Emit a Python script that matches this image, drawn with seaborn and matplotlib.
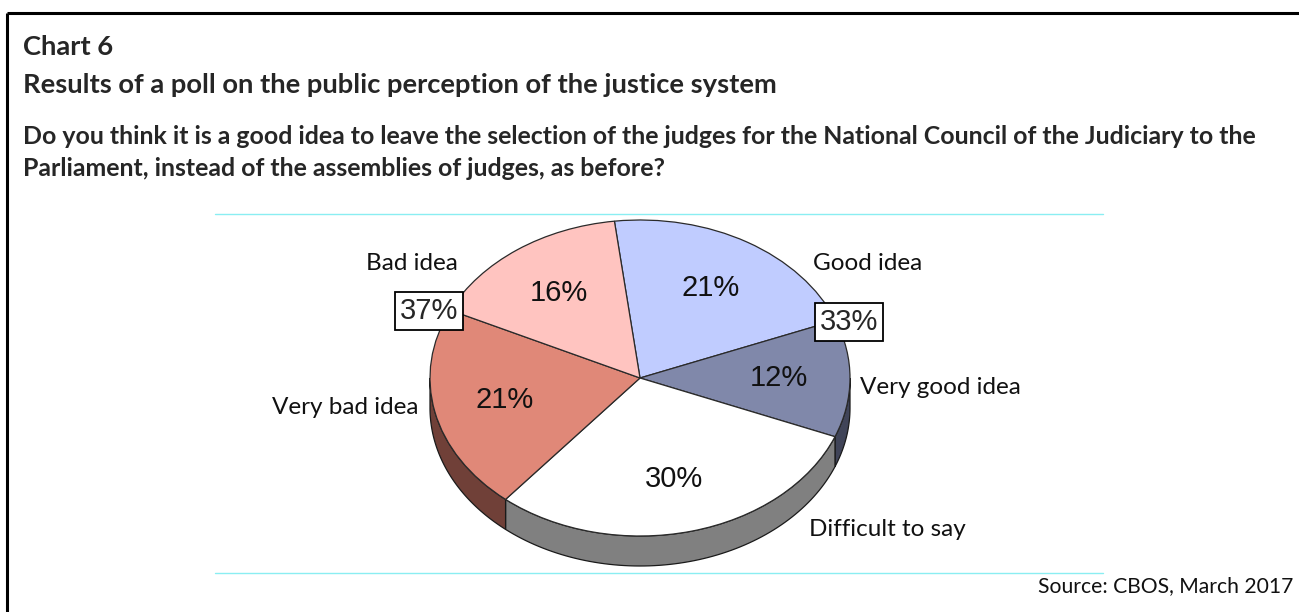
import numpy as np
import matplotlib
matplotlib.use("Agg")
import matplotlib.pyplot as plt
from matplotlib.patches import Polygon
import seaborn as sns

# Poll answers, listed clockwise from the top of the pie
categories = ["Good idea", "Very good idea", "Difficult to say", "Very bad idea", "Bad idea"]
shares = [21, 12, 30, 21, 16]
top_colors = ["#c0ccff", "#8088aa", "#ffffff", "#e08878", "#ffc4c0"]
side_colors = ["#7a82a8", "#404458", "#808080", "#704038", "#a07470"]

title_lines = ["Chart 6", "Results of a poll on the public perception of the justice system"]
question_lines = [
    "Do you think it is a good idea to leave the selection of the judges for the National Council of the Judiciary to the",
    "Parliament, instead of the assemblies of judges, as before?",
]
source_note = "Source: CBOS, March 2017"

sns.set_style("white")
plt.rcParams["font.family"] = ["Lato", "DejaVu Sans"]

W, H = 1299, 612
fig = plt.figure(figsize=(W / 100, H / 100), dpi=100)

# Pie geometry (pixels): centre, horizontal and vertical semi-axes, depth
cx, cy, ra, rb, depth_px = 640, 378, 210, 158, 30
xl, yl_lo, yl_hi = 1.3, -1.4, 1.2
pie_ax = fig.add_axes([
    (cx - xl * ra) / W,
    (H - (cy - yl_lo * rb)) / H,
    2 * xl * ra / W,
    (yl_hi - yl_lo) * rb / H,
])

wedges, _, autotexts = pie_ax.pie(
    shares,
    colors=top_colors,
    startangle=97,
    counterclock=False,
    autopct=lambda p: f"{p:.0f}%",
    pctdistance=0.66,
    wedgeprops=dict(edgecolor="#2a2a2a", linewidth=0.9),
    textprops=dict(fontsize=21, family="Liberation Sans", color="#111111"),
)
for w in wedges:
    w.set_zorder(3)
for t in autotexts:
    t.set_zorder(5)

pie_ax.set_aspect("auto")
pie_ax.set_xlim(-xl, xl)
pie_ax.set_ylim(yl_lo, yl_hi)
pie_ax.axis("off")

# Visible side walls on the front half of the pie
depth = depth_px / rb
for w, sc in zip(wedges, side_colors):
    t1, t2 = w.theta1, w.theta2
    for off in (-360, 0, 360):
        lo = max(t1, 180 + off)
        hi = min(t2, 360 + off)
        if hi <= lo:
            continue
        ang = np.radians(np.linspace(lo, hi, 80))
        top = np.column_stack([np.cos(ang), np.sin(ang)])
        bot = np.column_stack([np.cos(ang[::-1]), np.sin(ang[::-1]) - depth])
        pie_ax.add_patch(Polygon(np.vstack([top, bot]), closed=True,
                                 facecolor=sc, edgecolor="#1a1a1a",
                                 linewidth=0.9, zorder=2))

# Overlay axes in pixel units for frame, headings and notes (drawn above the pie)
ov = fig.add_axes([0, 0, 1, 1])
ov.set_xlim(0, W)
ov.set_ylim(H, 0)
ov.axis("off")
ov.set_zorder(10)

# Category labels
lab_font = dict(fontsize=17.5, color="#111111", ha="center", va="center")
label_pos = {
    "Good idea": (868, 263),
    "Very good idea": (940, 388),
    "Difficult to say": (887, 530),
    "Very bad idea": (345, 408),
    "Bad idea": (412, 263),
}
for c in categories:
    x, y = label_pos[c]
    ov.text(x, y, c, **lab_font)

# Boxed totals for the negative and positive answers
neg_total = shares[3] + shares[4]
pos_total = shares[0] + shares[1]
box_style = dict(boxstyle="square,pad=0.18", facecolor="white", edgecolor="black", linewidth=1.3)
ov.text(429, 311, f"{neg_total}%", fontsize=21, family="Liberation Sans",
        ha="center", va="center", bbox=box_style, zorder=10)
ov.text(849, 322, f"{pos_total}%", fontsize=21, family="Liberation Sans",
        ha="center", va="center", bbox=box_style, zorder=10)

# Thin cyan rules above and below the plot area
ov.plot([215, 1103], [214, 214], color="#8aeef2", linewidth=1)
ov.plot([215, 1103], [573, 573], color="#8aeef2", linewidth=1)

# Frame: top and left edges only
ov.plot([7, W], [13, 13], color="black", linewidth=2.2, solid_capstyle="butt")
ov.plot([7, 7], [13, H], color="black", linewidth=2.2, solid_capstyle="butt")

# Headings
ov.text(23, 47, title_lines[0], fontsize=19.7, fontweight="bold", ha="left", va="center")
ov.text(23, 85, title_lines[1], fontsize=19.7, fontweight="bold", ha="left", va="center")
ov.text(23, 137, question_lines[0], fontsize=17.9, fontweight="bold", ha="left", va="center")
ov.text(23, 168, question_lines[1], fontsize=17.9, fontweight="bold", ha="left", va="center")

ov.text(1293, 586, source_note, fontsize=15.2, ha="right", va="center", color="#111111")

fig.savefig("out.png", dpi=100)
